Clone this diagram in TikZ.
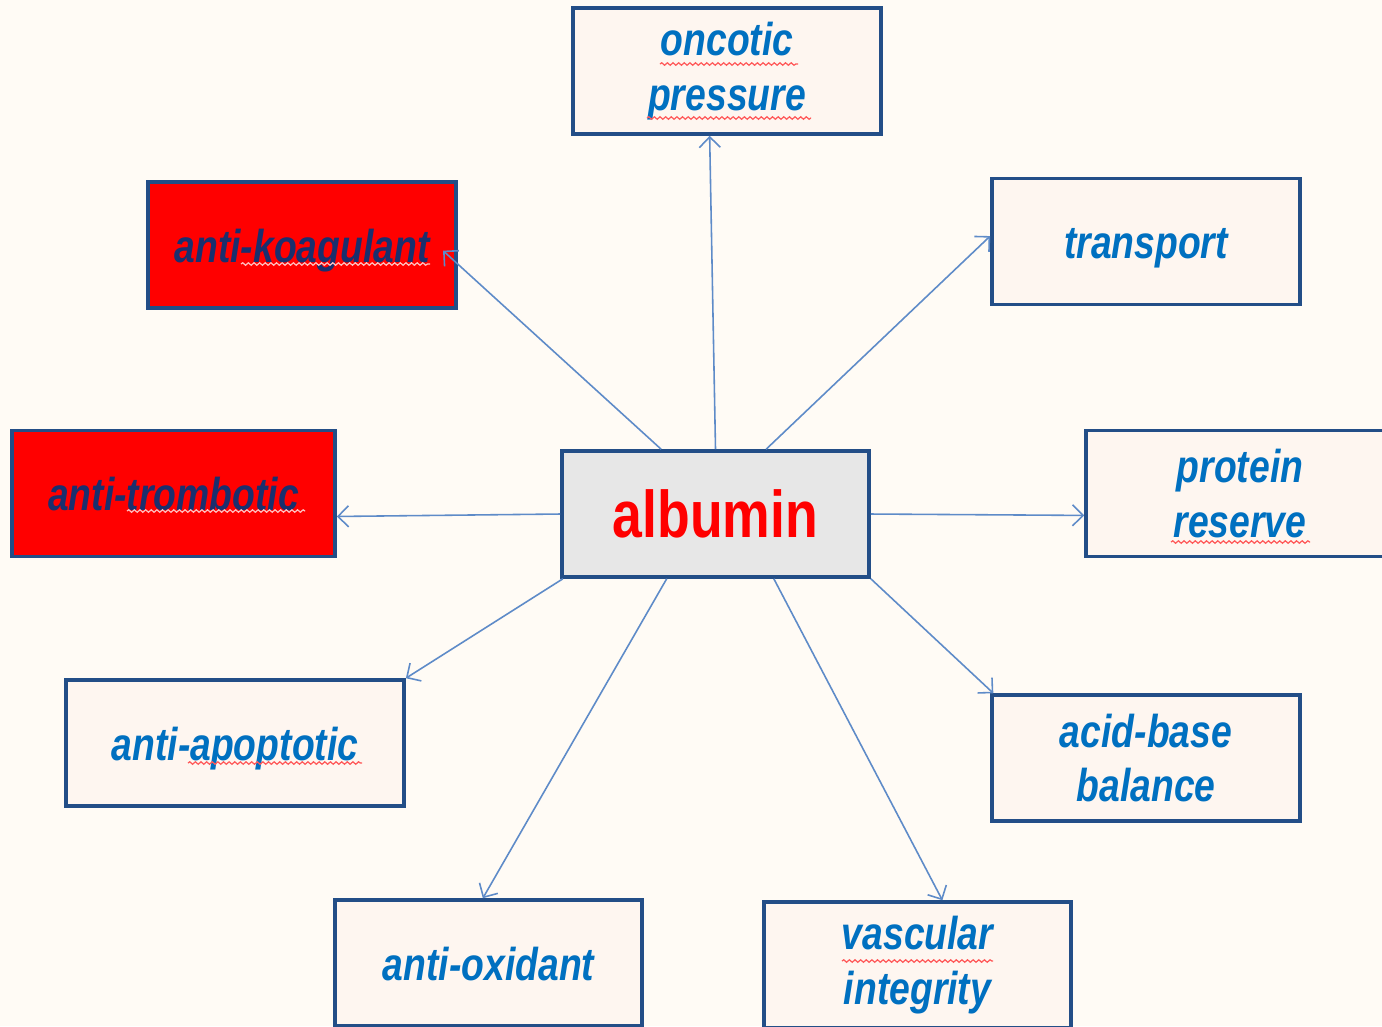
\documentclass[tikz,border=0pt]{standalone}
\usepackage{fontspec}
\setmainfont{Liberation Sans}
\newfontfamily\slidefont[FakeStretch=0.81]{Liberation Sans}
\usetikzlibrary{arrows.meta,decorations.pathmorphing}
\definecolor{bgcream}{HTML}{FFFBF5}
\definecolor{boxfill}{HTML}{FEF6F0}
\definecolor{boxline}{HTML}{234E87}
\definecolor{txtblue}{HTML}{0070C0}
\definecolor{txtnavy}{HTML}{1A2F6E}
\definecolor{arrblue}{HTML}{5E8BC8}
\definecolor{albgrey}{HTML}{E7E7E7}
\begin{document}
\begin{tikzpicture}[x=0.01cm, y=-0.01cm,
    func/.style={draw=boxline, line width=1pt, fill=boxfill, inner sep=0pt,
      minimum width=3.08cm, minimum height=1.26cm, align=center, text=txtblue,
      font=\slidefont\bfseries\itshape\fontsize{13.1}{15.6}\selectfont},
    oneline/.style={text height=12pt, text depth=2.3pt},
    redfunc/.style={func, oneline, fill=red, text=txtnavy},
    link/.style={draw=arrblue, line width=0.45pt, -{Straight Barb[length=3pt,width=6pt]}},
    typo/.style={draw=red!65, line width=0.35pt, decorate,
      decoration={snake, amplitude=0.35pt, segment length=1.6pt}}]
    \useasboundingbox (0,0) rectangle (1382,1026);
    \clip (0,0) rectangle (1382,1026);
    \fill[bgcream] (0,0) rectangle (1382,1026);

    % the functions
    \node[func] (onc) at (727,71) {oncotic\\pressure};
    \node[redfunc] (koag) at (302,245) {anti-koagulant};
    \node[func, oneline] (trans) at (1146,241.5) {transport};
    \node[redfunc, minimum width=3.23cm] (tromb) at (173.5,493.5) {anti-trombotic};
    \node[func] (prot) at (1240,493.5) {protein\\reserve};
    \node[func, oneline, minimum width=3.38cm] (apop) at (235,743) {anti-apoptotic};
    \node[func] (acid) at (1146,758) {acid-base\\balance};
    \node[func, oneline, minimum width=3.07cm] (oxid) at (488.5,963) {anti-oxidant};
    \node[func, minimum width=3.07cm] (vasc) at (917.5,965) {vascular\\integrity};

    % centre
    \node[func, fill=albgrey, text=red, minimum width=3.07cm,
      font=\slidefont\bfseries\fontsize{18.8}{22}\selectfont] (alb) at (715.5,514) {albumin};

    \draw[link] (alb.90) -- (onc.255);
    \draw[link, shorten >=-0.2cm] (alb.130) -- (koag.-7);
    \draw[link] (alb.52) -- (trans.178);
    \draw[link] (alb.180) -- (tromb.352);
    \draw[link] (alb.0) -- (prot.188);
    \draw[link] (alb.203) -- (apop.north east);
    \draw[link] (alb.south east) -- (acid.157);
    \draw[link] (alb.233) -- (oxid.95);
    \draw[link] (alb.312) -- (vasc.69);

    % spell check marks
    \draw[typo] (660,64) -- (798,64);
    \draw[typo] (647,118) -- (811,118);
    \draw[typo, draw=red!25] (241,264) -- (430,264);
    \draw[typo, draw=red!25] (127,511) -- (305,511);
    \draw[typo] (1171,542) -- (1310,542);
    \draw[typo] (188,763) -- (362,763);
    \draw[typo] (842,961) -- (993,961);
\end{tikzpicture}
\end{document}
